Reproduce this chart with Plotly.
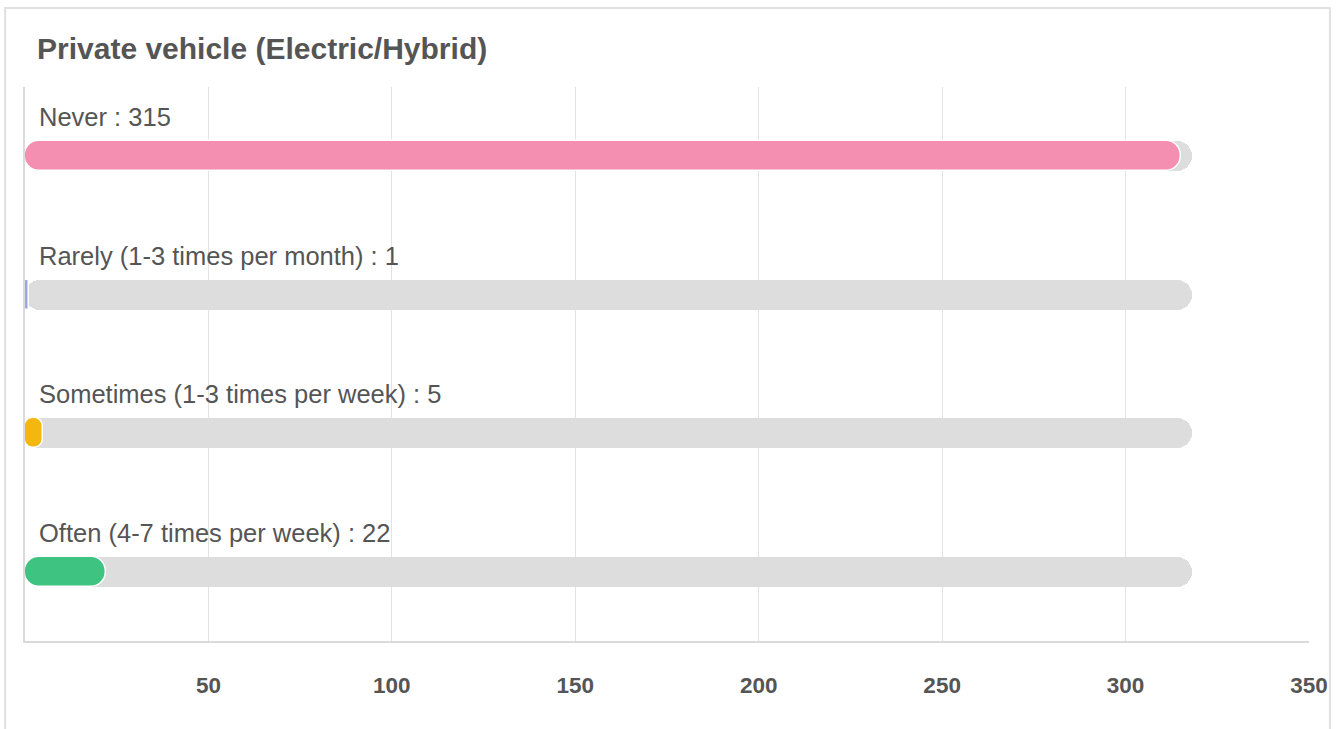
import plotly.graph_objects as go

# Survey responses: how often a private electric/hybrid vehicle is used
categories = [
    "Never",
    "Rarely (1-3 times per month)",
    "Sometimes (1-3 times per week)",
    "Often (4-7 times per week)",
]
counts = [315, 1, 5, 22]
bar_colors = ["#F48FB1", "#9FA8DA", "#F4B70F", "#3EC480"]
track_max = 318
tick_values = [50, 100, 150, 200, 250, 300, 350]
tick_labels = ["50", "100", "150", "200", "250", "300", "350"]
title_text = "Private vehicle (Electric/Hybrid)"

W, H = 1340, 729
M_L, M_R, M_T, M_B = 25, 26, 87, 88
PLOT_W = W - M_L - M_R
PLOT_H = H - M_T - M_B
BAR_PX = 30
bar_w = BAR_PX / (PLOT_H / len(categories))
RADIUS = BAR_PX / 2

TEXT = "#555555"
FONT = "Liberation Sans, Arial, Helvetica, sans-serif"

fig = go.Figure()

# grey background tracks, then the coloured value bars (floating bars with
# an explicit base are rounded at both ends)
fig.add_trace(go.Bar(
    y=categories, x=[track_max] * len(categories), base=[0] * len(categories),
    orientation="h", width=bar_w,
    marker=dict(color="#DDDDDD", line=dict(width=0), cornerradius=RADIUS),
    hoverinfo="skip", showlegend=False,
))
fig.add_trace(go.Bar(
    y=categories, x=counts, base=[0] * len(categories),
    orientation="h", width=bar_w,
    marker=dict(color=bar_colors, line=dict(color="#FFFFFF", width=1.5),
                cornerradius=RADIUS),
    hoverinfo="skip", showlegend=False,
))

for cat, val in zip(categories, counts):
    fig.add_annotation(
        x=0, y=cat, xref="x", yref="y", xanchor="left", yanchor="middle",
        xshift=12, yshift=39, showarrow=False,
        text=f"{cat} : {val}", font=dict(family=FONT, size=25.5, color=TEXT),
    )


# card outline around the chart
def px_x(p):
    return (p - M_L) / PLOT_W


def px_y(p):
    return (H - M_B - p) / PLOT_H


fig.add_shape(
    type="rect", xref="paper", yref="paper",
    x0=px_x(5), x1=px_x(1335), y0=px_y(760), y1=px_y(8),
    line=dict(color="#E0E0E0", width=2), fillcolor="rgba(0,0,0,0)", layer="below",
)

fig.update_layout(
    width=W, height=H,
    margin=dict(l=M_L, r=M_R, t=M_T, b=M_B),
    paper_bgcolor="white", plot_bgcolor="white",
    barmode="overlay", bargap=0,
    title=dict(
        text=title_text, xref="container", yref="container",
        x=37 / W, xanchor="left", y=1 - 48 / H, yanchor="middle",
        font=dict(family=FONT, size=30, color=TEXT, weight="bold"),
    ),
    xaxis=dict(
        range=[0, 350], tickvals=tick_values, ticktext=tick_labels,
        showgrid=True, gridcolor="#E3E3E3", gridwidth=1,
        showline=True, linecolor="#DADADA", linewidth=1.5,
        zeroline=False, ticks="", ticklabelstandoff=23,
        tickfont=dict(family=FONT, size=22.5, color=TEXT, weight="bold"),
    ),
    yaxis=dict(
        type="category", categoryorder="array", categoryarray=categories,
        range=[len(categories) - 0.5, -0.5],
        showticklabels=False, showgrid=False, zeroline=False,
        showline=True, linecolor="#DADADA", linewidth=1.5,
    ),
)

fig.write_html("out.html")
